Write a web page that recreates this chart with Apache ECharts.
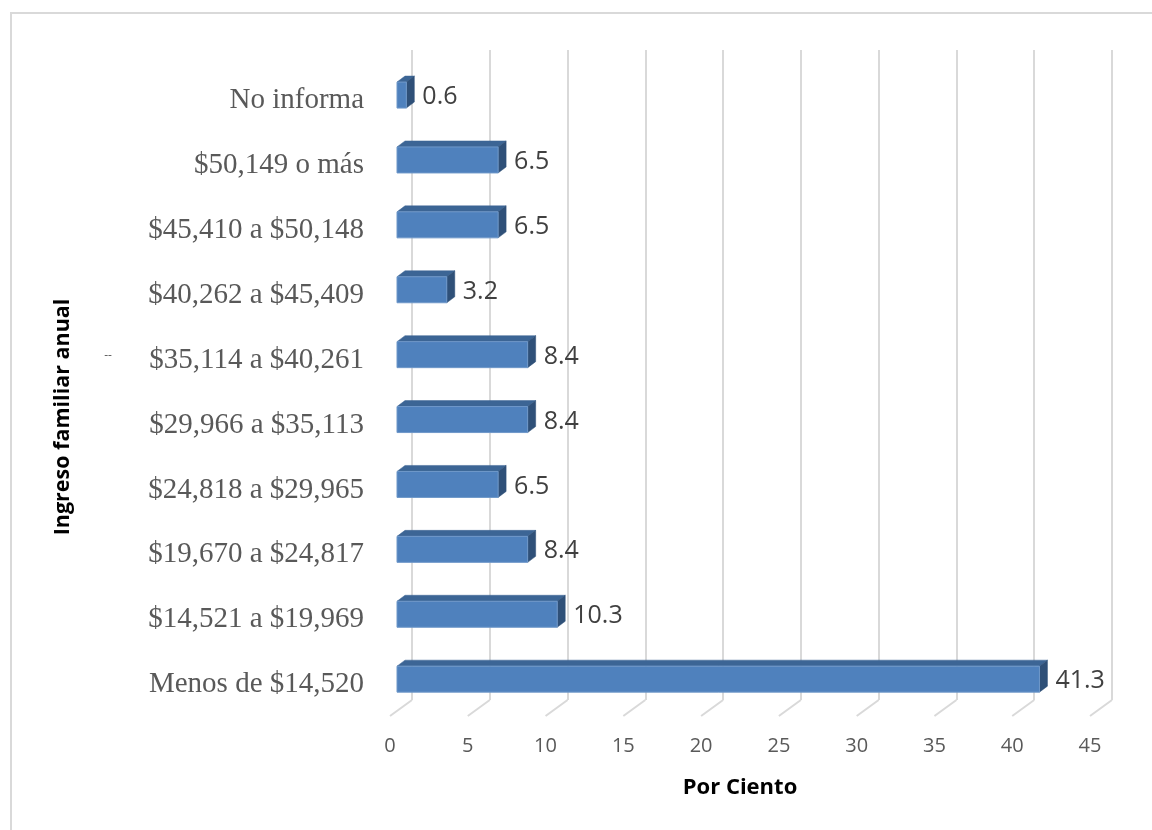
<!DOCTYPE html>
<html>
<head>
<meta charset="utf-8">
<script src="https://cdn.jsdelivr.net/npm/echarts@6/dist/echarts.min.js"></script>
<style>
html,body{margin:0;padding:0;background:#fff;}
#chart{width:1152px;height:830px;}
</style>
</head>
<body>
<div id="chart"></div>
<script>
const categories = ['Menos de $14,520','$14,521 a $19,969','$19,670 a $24,817','$24,818 a $29,965','$29,966 a $35,113','$35,114 a $40,261','$40,262 a $45,409','$45,410 a $50,148','$50,149 o más','No informa'];
const values = [41.3, 10.3, 8.4, 6.5, 8.4, 8.4, 3.2, 6.5, 6.5, 0.6];
const ticks = [0, 5, 10, 15, 20, 25, 30, 35, 40, 45];
const xTitle = 'Por Ciento';
const yTitle = 'Ingreso familiar anual';

const DX = 8, DY = 6;      // bar depth offset
const FDX = 22, FDY = 16;  // floor depth
const chart = echarts.init(document.getElementById('chart'), null, {renderer: 'canvas'});

const option = {
  backgroundColor: '#fff',
  animation: false,
  grid: [
    {left: 397, width: 700, top: 62.6, height: 649},
    {left: 412, width: 700, top: 50, height: 650},
    {left: 390, width: 700, top: 50, height: 666}
  ],
  xAxis: [
    {gridIndex: 0, type: 'value', min: 0, max: 45, interval: 5, show: false},
    {gridIndex: 1, type: 'value', min: 0, max: 45, interval: 5,
     axisLine: {show: false}, axisTick: {show: false}, axisLabel: {show: false},
     splitLine: {show: true, lineStyle: {color: '#d9d9d9', width: 2}}},
    {gridIndex: 2, type: 'value', min: 0, max: 45, interval: 5,
     axisLine: {show: false}, axisTick: {show: false}, splitLine: {show: false},
     axisLabel: {margin: 20, fontFamily: 'Open Sans', fontSize: 20, color: '#595959'},
     name: xTitle, nameLocation: 'middle', nameGap: 61,
     nameTextStyle: {fontFamily: 'Open Sans', fontWeight: 'bold', fontSize: 22, color: '#000'}}
  ],
  yAxis: [
    {gridIndex: 0, type: 'category', data: categories,
     axisLine: {show: false}, axisTick: {show: false}, splitLine: {show: false},
     axisLabel: {margin: 33, fontFamily: 'Liberation Serif', fontSize: 29, color: '#595959',
                 formatter: function (v) { return '{a|' + v + '}'; },
                 rich: {a: {fontFamily: 'Liberation Serif', fontSize: 29, color: '#595959', padding: [11, 0, 0, 0]}}}},
    {gridIndex: 1, type: 'value', min: 0, max: 1, show: false},
    {gridIndex: 2, type: 'value', min: 0, max: 1, show: false}
  ],
  graphic: [
    {type: 'rect', shape: {x: 11, y: 13, width: 1400, height: 1000}, style: {fill: 'none', stroke: '#d9d9d9', lineWidth: 2}, silent: true},
    {type: 'text', x: 63, y: 417, rotation: Math.PI / 2,
     style: {text: yTitle, fontFamily: 'Open Sans', fontWeight: 'bold', fontSize: 21.5, fill: '#000', align: 'center', verticalAlign: 'middle'}},
    {type: 'text', x: 108, y: 356, style: {text: '--', fontFamily: 'Open Sans', fontSize: 12, fill: '#595959', align: 'center', verticalAlign: 'middle'}}
  ],
  series: [
    {
      type: 'custom', xAxisIndex: 1, yAxisIndex: 1, silent: true,
      data: ticks.map(t => [t, 0]),
      encode: {x: 0, y: 1},
      renderItem: function (params, api) {
        const p = api.coord([api.value(0), 0]);
        return {type: 'line', shape: {x1: p[0], y1: p[1], x2: p[0] - FDX, y2: p[1] + FDY},
                style: {stroke: '#d9d9d9', lineWidth: 2}};
      }
    },
    {
      type: 'custom', xAxisIndex: 0, yAxisIndex: 0, silent: true,
      data: values.map((v, i) => [v, i]),
      encode: {x: 0, y: 1},
      renderItem: function (params, api) {
        const v = api.value(0);
        const p0 = api.coord([0, api.value(1)]);
        const p1 = api.coord([v, api.value(1)]);
        const h = 26;
        const x0 = p0[0], x1 = p1[0], yt = p0[1] - h / 2, yb = p0[1] + h / 2;
        return {type: 'group', children: [
          {type: 'polygon', shape: {points: [[x0, yt], [x1, yt], [x1 + DX, yt - DY], [x0 + DX, yt - DY]]},
           style: {fill: '#3c6595', stroke: '#3c6595', lineWidth: 0.5}},
          {type: 'polygon', shape: {points: [[x1, yt], [x1 + DX, yt - DY], [x1 + DX, yb - DY], [x1, yb]]},
           style: {fill: '#2f5078', stroke: '#2f5078', lineWidth: 0.5}},
          {type: 'rect', shape: {x: x0, y: yt, width: x1 - x0, height: h},
           style: {fill: '#4f81bd', stroke: '#6f98c9', lineWidth: 1}},
          {type: 'text', x: x1 + 16, y: p0[1] + 2,
           style: {text: String(v), fontFamily: 'Open Sans', fontSize: 25, fill: '#404040', align: 'left', verticalAlign: 'middle'}}
        ]};
      }
    }
  ]
};
chart.setOption(option);
</script>
</body>
</html>
